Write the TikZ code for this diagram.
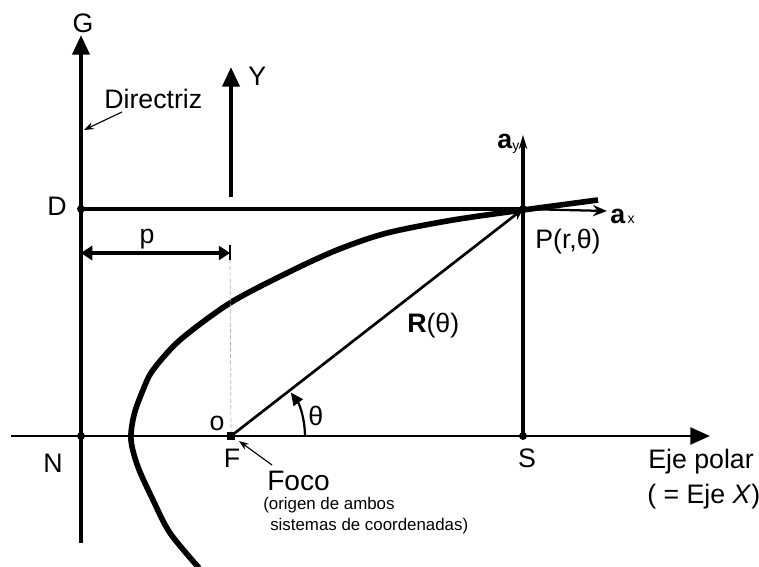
\documentclass[tikz,border=0pt]{standalone}
\usepackage{fontspec}
\setmainfont{Liberation Sans}
\usetikzlibrary{arrows.meta}
\tikzset{
  heavy/.style={black, line width=3pt},
  thinline/.style={black, line width=0.8pt},
  lbl/.style={inner sep=0pt, font=\fontsize{19}{21}\selectfont},
  smalllbl/.style={inner sep=0pt, font=\fontsize{12}{14}\selectfont},
  bigtip/.style={-{Triangle[length=14pt,width=12pt]}},
}

\begin{document}
\begin{tikzpicture}[x=0.025cm, y=-0.025cm]
    \useasboundingbox (0,0) rectangle (759,567);

    \coordinate (Gtop) at (81,35);
    \coordinate (Gbot) at (81,543);
    \coordinate (D) at (81,209);
    \coordinate (N) at (81,436);
    \coordinate (F) at (231,436);
    \coordinate (S) at (523,436);
    \coordinate (P) at (523,209);
    \coordinate (axL) at (11,436);
    \coordinate (axR) at (710,436);
    \coordinate (Ybot) at (231,197);
    \coordinate (Ytop) at (231,67);
    \coordinate (aytip) at (523,135);
    \coordinate (axtip) at (607,211);
    \coordinate (pL) at (81,253);
    \coordinate (pR) at (230,253);
    \coordinate (dirtail) at (122,112);
    \coordinate (dirhead) at (84,130);
    \coordinate (focotail) at (272,465);
    \coordinate (focohead) at (239,441);

    % parabola
    \draw [black, line width=4pt, line join=round] plot[smooth] coordinates {(199,568) (170,533) (153,500) (138,467) (131,440) (134,415) (143,390) (153,370) (180,340) (230,303) (287,273) (337,250) (387,233) (453,220) (523,210) (598,200)};

    \draw [bigtip][heavy] (Gbot) -- (Gtop);
    \draw [bigtip][heavy] (Ybot) -- (Ytop);
    \draw [heavy] (D) -- (P);
    \draw [-{Stealth[length=10pt,width=6pt]}][black, line width=2.6pt] (S) -- (aytip);
    \draw [-{Stealth[length=10pt,width=8pt]}][black, line width=1.6pt] (P) -- (axtip);
    \draw [bigtip][black, line width=2pt] (axL) -- (axR);
    \draw [gray!60, line width=0.5pt, dash pattern=on 3pt off 1.5pt] (pR) -- (F);
    \draw [{Triangle[length=8pt,width=10pt]}-{Triangle[length=8pt,width=10pt]}][heavy, line width=2.6pt] (pL) -- (pR);
    \draw [thinline] ([yshift=6pt]pR) -- ([yshift=-5pt]pR);
    \draw [-{Stealth[length=8pt,width=7pt]}][black, line width=1.9pt] (F) -- (P);
    \draw [-{Triangle[length=9pt,width=8pt]}][black, line width=1.6pt] (F) ++(74,0) arc[start angle=0, end angle=-36, radius=74];
    \draw [-{Stealth[length=7pt,width=5pt]}][thinline] (dirtail) -- (dirhead);
    \draw [-{Stealth[length=7pt,width=5pt]}][thinline] (focotail) -- (focohead);

    \foreach \pt in {D,N,S,P} \fill (\pt) circle[radius=4];
    \fill ([shift={(-4,-4)}]F) rectangle ([shift={(4,4)}]F);

    \node [lbl, anchor=base] (Glbl) at (83,32) {G};
    \node [lbl, anchor=base west] (Ylbl) at (248,85) {Y};
    \node [lbl, anchor=base west] (dirlbl) at (104,108) {Directriz};
    \node [lbl, anchor=base] (Dlbl) at (57,215) {D};
    \node [lbl, anchor=base] (plbl) at (147,243) {p};
    \node [lbl, anchor=base] (Nlbl) at (53,472) {N};
    \node [lbl, anchor=base] (olbl) at (217,430) {o};
    \node [lbl, anchor=base] (Flbl) at (232,467) {F};
    \node [lbl, anchor=base] (Slbl) at (527,467) {S};
    \node [lbl, anchor=base west] (Rlbl) at (407,332) {\textbf{R}(θ)};
    \node [lbl, anchor=base west] (thlbl) at (308,425) {θ};
    \node [lbl, anchor=base west] (Plbl) at (535,248) {P(r,θ)};
    \node [lbl, anchor=base west] (axlbl) at (610,223) {\textbf{a}{\fontsize{10}{12}\selectfont\,x}};
    \node [lbl, anchor=base west] (aylbl) at (497,148) {\textbf{a}\raisebox{-2pt}{\fontsize{10}{12}\selectfont y}};
    \node [inner sep=0pt, font=\fontsize{20}{22}\selectfont, anchor=base west] (focolbl) at (267,490) {Foco};
    \node [smalllbl, anchor=base west] (orig1) at (263,509) {(origen de ambos};
    \node [smalllbl, anchor=base west] (orig2) at (270,530) {sistemas de coordenadas)};
    \node [lbl, anchor=base west] (ejelbl) at (648,468) {Eje polar};
    \node [lbl, anchor=base west] (ejex) at (647,503) {( = Eje \textit{X})};
\end{tikzpicture}
\end{document}
